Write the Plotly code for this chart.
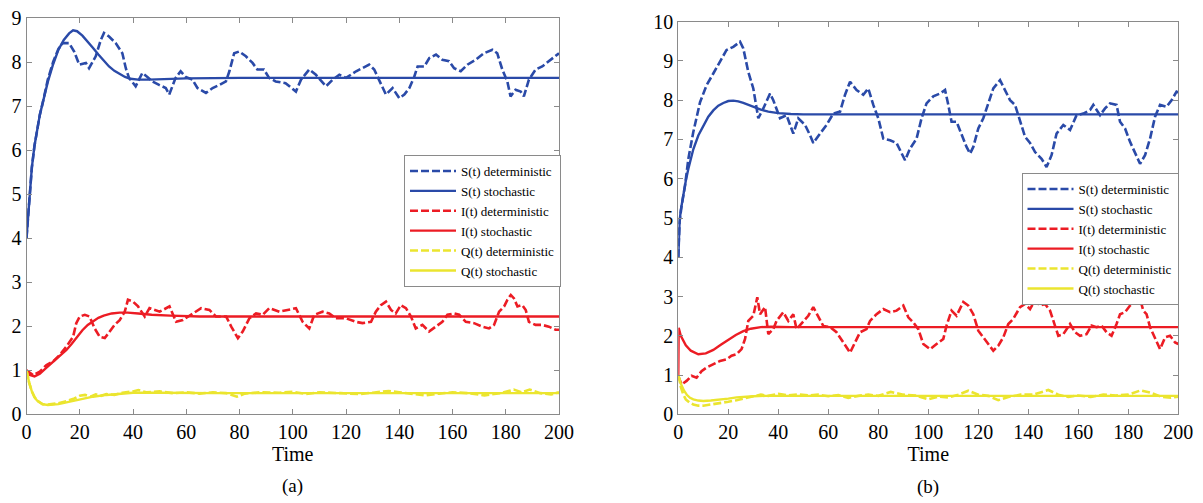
import plotly.graph_objects as go

# ---------------- data: panel (a) ----------------
a_S_det = [(0,4.0),(1,4.9),(2,5.6),(3,6.1),(4,6.5),(5,6.8),(6,7.05),(8,7.6),(10,8.0),(12,8.3),(13.6,8.43),(16,8.43),(17.9,8.24),(19.8,7.94),(22.3,7.98),(23.5,7.86),(26,8.13),(27.9,8.5),(29.1,8.66),(31,8.58),(33.5,8.43),(36,8.2),(37.3,7.86),(38.5,7.64),(41,7.45),(43.5,7.75),(45.4,7.66),(47.3,7.56),(49.8,7.48),(52.3,7.41),(53.6,7.26),(54.8,7.45),(56,7.64),(57.9,7.79),(59.8,7.66),(62.3,7.6),(64.2,7.41),(67.4,7.3),(69.9,7.41),(72.4,7.48),(74.9,7.56),(76.2,7.79),(78,8.2),(79.9,8.24),(82.4,8.13),(84.9,7.98),(86.7,7.83),(89.2,7.83),(91.1,7.64),(93.6,7.56),(97.3,7.52),(101.2,7.33),(103.1,7.6),(106.2,7.83),(108.7,7.71),(112.5,7.45),(115,7.6),(117.5,7.71),(120,7.64),(123.8,7.79),(128.7,7.94),(130.6,7.83),(132.5,7.6),(133.8,7.41),(135,7.26),(137.5,7.41),(140,7.18),(141.9,7.26),(143.8,7.41),(145.6,7.66),(146.9,7.9),(149.4,7.9),(151.3,8.09),(153.8,8.17),(156.2,8.05),(158.7,8.02),(160.6,7.86),(163.1,7.79),(165.6,7.94),(168.7,8.05),(171.8,8.2),(175,8.28),(176.8,8.2),(178.7,7.83),(180.6,7.56),(181.8,7.22),(183.7,7.37),(185.6,7.33),(186.8,7.22),(188.7,7.6),(191.2,7.83),(193.7,7.9),(196.2,8.02),(198.1,8.09),(200,8.2)]
a_S_sto = [(0,4.0),(1,4.9),(2,5.6),(3,6.1),(4,6.5),(5,6.8),(6,7.05),(8,7.55),(10,7.95),(12,8.28),(14,8.5),(16,8.65),(17.5,8.72),(19,8.7),(21,8.6),(23,8.47),(25,8.32),(27,8.17),(29,8.03),(31,7.9),(33,7.8),(35,7.72),(37,7.66),(39,7.62),(42,7.6),(46,7.6),(52,7.62),(60,7.63),(80,7.64),(200,7.64)]
a_I_det = [(0,1.0),(2.5,0.89),(5,0.97),(7.5,1.12),(10,1.2),(12.5,1.35),(15,1.54),(17.5,1.76),(18.7,2.07),(20,2.22),(21.9,2.26),(23.7,2.22),(25.6,1.95),(27.5,1.76),(29.4,1.73),(31.2,1.88),(33.1,2.03),(35,2.14),(36.9,2.33),(38.1,2.6),(40,2.56),(41.9,2.45),(44.4,2.22),(46.2,2.41),(50,2.33),(53.7,2.45),(56.2,2.1),(58.7,2.14),(62.5,2.29),(65.6,2.41),(68.7,2.37),(71.2,2.22),(75,2.22),(76.9,1.99),(79.4,1.73),(81.2,1.88),(83.7,2.18),(86.2,2.29),(88.7,2.26),(91.2,2.41),(95,2.33),(98.7,2.37),(101.2,2.41),(103.7,2.1),(106.2,1.95),(108.1,2.26),(111.2,2.33),(113.7,2.29),(116.2,2.18),(120,2.18),(123.7,2.1),(126.2,2.07),(129.4,2.1),(131.2,2.33),(133.1,2.48),(135,2.56),(136.9,2.37),(138.7,2.29),(140.6,2.48),(142.5,2.41),(144.4,2.22),(146.2,1.95),(148.7,2.03),(151.2,1.88),(153.7,1.99),(156.2,2.1),(158.1,2.26),(160.6,2.29),(162.5,2.26),(165,2.1),(168.1,2.07),(171.2,1.99),(173.7,1.95),(175.6,2.03),(177.5,2.33),(179.4,2.45),(180.6,2.6),(181.9,2.71),(183.1,2.63),(184.4,2.45),(186.2,2.48),(187.5,2.37),(188.7,2.1),(191.2,2.03),(193.7,2.03),(196.2,1.99),(198.7,1.92),(200,1.92)]
a_I_sto = [(0,1.0),(1,0.9),(3,0.86),(5,0.92),(7,1.03),(9,1.14),(11,1.25),(13,1.35),(15,1.46),(17,1.6),(19,1.76),(21,1.91),(23,2.03),(25,2.12),(27,2.19),(29,2.24),(32,2.29),(35,2.31),(38,2.31),(42,2.29),(47,2.26),(54,2.24),(65,2.22),(80,2.22),(200,2.22)]
a_Q_det = [(0,1.0),(1,0.72),(2,0.52),(3,0.39),(4,0.31),(5,0.26),(6,0.23),(8,0.22),(10,0.23),(12,0.25),(15,0.3),(18,0.36),(20,0.42),(22,0.44),(24,0.4),(26,0.45),(28,0.42),(30,0.46),(33,0.44),(36,0.49),(40,0.52),(42,0.55),(45,0.5),(50,0.52),(55,0.48),(60,0.5),(65,0.47),(70,0.5),(75,0.48),(79,0.4),(82,0.47),(88,0.5),(95,0.49),(100,0.51),(105,0.46),(110,0.5),(118,0.48),(125,0.46),(130,0.49),(136,0.53),(140,0.5),(145,0.47),(150,0.43),(155,0.47),(160,0.5),(166,0.48),(172,0.43),(178,0.48),(183,0.56),(186,0.5),(189,0.56),(193,0.48),(197,0.45),(200,0.5)]
a_Q_sto = [(0,1.0),(1,0.72),(2,0.52),(3,0.39),(4,0.31),(5,0.26),(6,0.23),(8,0.21),(10,0.215),(12,0.23),(15,0.27),(20,0.34),(25,0.4),(30,0.44),(35,0.47),(40,0.49),(50,0.49),(70,0.48),(200,0.48)]

# ---------------- data: panel (b) ----------------
b_S_det = [(0,4.0),(0.5,4.9),(1.3,5.3),(2.7,5.83),(4,6.5),(6,7.19),(8.7,7.95),(11.3,8.38),(14,8.68),(16.7,8.98),(19.3,9.28),(22,9.36),(24.7,9.49),(26,9.32),(28,8.72),(30,8.3),(31.3,7.87),(32,7.54),(34,7.79),(36.7,8.17),(38,8.0),(40.7,7.54),(43.3,7.62),(46,7.15),(48,7.54),(50.7,7.37),(52.7,7.11),(54,6.91),(56.7,7.15),(59.3,7.37),(62,7.66),(64.7,7.71),(66.7,8.14),(68.7,8.47),(71.3,8.26),(74,8.14),(76,8.3),(78,7.88),(80,7.54),(82,7.02),(84.7,6.98),(87.3,6.91),(90.7,6.47),(92.7,6.77),(95.3,7.02),(97.3,7.54),(99.3,7.92),(102,8.1),(104.7,8.17),(106.7,8.26),(108,7.88),(109.3,7.45),(111.3,7.45),(113.3,7.11),(115.3,6.81),(116.7,6.64),(118,6.81),(120,7.28),(122,7.54),(124,7.92),(126,8.3),(128.7,8.51),(130.7,8.26),(132.7,8.0),(134.7,7.88),(136.7,7.45),(138.7,7.07),(140.7,6.91),(142.7,6.68),(145.3,6.51),(147.3,6.3),(149.3,6.6),(151.3,7.15),(154,7.37),(156.7,7.24),(159.3,7.62),(162,7.66),(164.7,7.75),(166,7.88),(168.7,7.62),(170.7,7.79),(172.7,7.92),(175.3,7.88),(176.7,7.45),(178.7,7.28),(180.7,6.94),(182.7,6.68),(184.7,6.38),(186.7,6.6),(188.7,7.02),(190.7,7.58),(192.7,7.88),(195.3,7.83),(197.3,8.0),(199.3,8.22),(200,8.2)]
b_S_sto = [(0,4.0),(0.5,4.9),(1,5.2),(2,5.6),(3,5.95),(4,6.25),(6,6.75),(8,7.1),(10,7.35),(12,7.58),(14,7.74),(16,7.86),(18,7.93),(20,7.98),(22,7.99),(24,7.97),(26,7.93),(28,7.88),(30,7.83),(33,7.76),(36,7.71),(40,7.67),(45,7.65),(50,7.64),(200,7.64)]
b_I_det = [(0,0.97),(1.3,0.76),(3.3,0.85),(5.3,0.98),(7.3,0.93),(9.3,1.1),(11.3,1.19),(14,1.27),(16.7,1.36),(19.3,1.4),(21.3,1.49),(23.3,1.53),(25.3,1.66),(26.7,1.92),(28,2.38),(30,2.51),(31.6,2.98),(32.7,2.55),(34.7,2.73),(36,2.04),(38,2.17),(39.3,2.38),(42,2.6),(44,2.38),(46,2.55),(47.3,2.17),(50,2.38),(52,2.51),(54,2.73),(56,2.47),(58,2.25),(60.7,2.22),(63.3,2.09),(66,1.83),(68.7,1.57),(70.7,1.83),(72.7,2.09),(75.3,2.17),(76.7,2.38),(79.3,2.55),(82,2.68),(84.7,2.6),(87.3,2.64),(90,2.77),(92,2.47),(94,2.34),(96,2.17),(98,1.79),(100.7,1.66),(103.3,1.79),(106,1.92),(107.3,2.26),(109.3,2.64),(111.3,2.51),(114,2.86),(116,2.77),(118,2.55),(120,2.13),(122,1.96),(124,1.79),(126,1.62),(128,1.75),(130,1.96),(132,2.3),(134,2.43),(136.7,2.73),(138.7,2.81),(140.7,2.68),(142.7,2.9),(144.7,2.77),(146.7,2.81),(148.7,2.64),(150.7,2.26),(152,2.0),(154,2.04),(156.7,2.3),(158.7,2.09),(160.7,2.0),(163.3,2.04),(165.3,2.26),(167.3,2.22),(169.3,2.26),(171.3,2.09),(173.3,2.0),(175.3,2.3),(176.7,2.55),(178.7,2.6),(180.7,2.77),(182.7,2.9),(184.7,2.94),(186,2.64),(187.3,2.55),(188.7,2.22),(190.7,1.92),(192.7,1.66),(194.7,1.96),(196.7,2.0),(198.7,1.83),(200,1.79)]
b_I_sto = [(0,1.0),(0.15,2.2),(1,2.0),(2,1.86),(3,1.76),(5,1.62),(8,1.53),(11,1.55),(14,1.64),(17,1.77),(20,1.9),(23,2.02),(26,2.12),(29,2.18),(33,2.22),(37,2.23),(45,2.22),(200,2.22)]
b_Q_det = [(0,1.0),(1,0.7),(2,0.5),(3,0.38),(4.5,0.3),(6,0.25),(8,0.22),(10,0.22),(13,0.25),(16.7,0.28),(20,0.32),(23.3,0.36),(26,0.4),(30,0.45),(33,0.5),(36,0.47),(40,0.52),(44,0.48),(48,0.51),(52,0.48),(56,0.5),(60,0.46),(64,0.49),(68,0.42),(72,0.47),(76,0.5),(80,0.47),(85,0.57),(90,0.5),(95,0.48),(100,0.38),(104,0.45),(108,0.43),(112,0.5),(116,0.6),(120,0.5),(124,0.47),(128,0.36),(132,0.44),(137,0.5),(142,0.5),(148,0.62),(152,0.5),(156,0.44),(160,0.48),(165,0.44),(170,0.5),(175,0.48),(180,0.5),(185,0.61),(189,0.55),(193,0.45),(197,0.42),(200,0.45)]
b_Q_sto = [(0,1.0),(1,0.78),(2.3,0.6),(3.5,0.49),(4.7,0.42),(6,0.38),(8,0.35),(10,0.34),(13,0.35),(16.7,0.37),(20,0.4),(23.3,0.43),(27,0.45),(30,0.46),(35,0.47),(45,0.47),(200,0.47)]

series_names = ["S(t) deterministic", "S(t) stochastic", "I(t) deterministic",
                "I(t) stochastic", "Q(t) deterministic", "Q(t) stochastic"]
x_ticks = [0, 20, 40, 60, 80, 100, 120, 140, 160, 180, 200]
ya_ticks = [0, 1, 2, 3, 4, 5, 6, 7, 8, 9]
yb_ticks = [0, 1, 2, 3, 4, 5, 6, 7, 8, 9, 10]
panel_labels = ["(a)", "(b)"]

BLUE = "#2a4aa8"
RED = "#ec1c24"
YEL = "#ebe52f"
colors = [BLUE, BLUE, RED, RED, YEL, YEL]
DASH = "8px,3px"

fig = go.Figure()

def add_panel(series, xa, ya, legend):
    for i, (data, name) in enumerate(zip(series, series_names)):
        xs = [p[0] for p in data]
        ys = [p[1] for p in data]
        det = (i % 2 == 0)
        fig.add_trace(go.Scatter(
            x=xs, y=ys, mode="lines", name=name,
            line=dict(color=colors[i], width=2.6 if det else 2.4,
                      dash=DASH if det else "solid"),
            xaxis=xa, yaxis=ya, legend=legend, showlegend=True))

add_panel([a_S_det, a_S_sto, a_I_det, a_I_sto, a_Q_det, a_Q_sto], "x", "y", "legend")
add_panel([b_S_det, b_S_sto, b_I_det, b_I_sto, b_Q_det, b_Q_sto], "x2", "y2", "legend2")

# the page body has an 8px default margin, so the figure is placed at (8, 8)
OFF = 8
W, H = 1203 - OFF, 503 - OFF
def fx(px): return (px - OFF) / W
def fy(py): return 1 - (py - OFF) / H

FONT = "Liberation Serif"
axis_common = dict(showline=True, linecolor="#8a8a8a", linewidth=1, mirror="allticks",
                   ticks="inside", ticklen=5, tickcolor="#8a8a8a", showgrid=False,
                   zeroline=False, tickfont=dict(family=FONT, size=20, color="black"),
                   ticklabeloverflow="allow", automargin=False)
title_font = dict(family=FONT, size=20, color="black")
legend_common = dict(xanchor="right", yanchor="top", bgcolor="white",
                     bordercolor="#8a8a8a", borderwidth=1,
                     font=dict(family=FONT, size=13, color="black"), itemwidth=46,
                     tracegroupgap=0, traceorder="normal")

fig.update_layout(
    width=W, height=H, margin=dict(l=0, r=0, t=0, b=0),
    paper_bgcolor="white", plot_bgcolor="white",
    font=dict(family=FONT, color="black", size=20),
    xaxis=dict(domain=[fx(26.5), fx(559)], range=[0, 200], tickvals=x_ticks,
               anchor="y", title=dict(text="Time", font=title_font, standoff=0),
               **axis_common),
    yaxis=dict(domain=[fy(414.3), fy(18)], range=[0, 9], tickvals=ya_ticks, anchor="x",
               **axis_common),
    xaxis2=dict(domain=[fx(678.3), fx(1178.3)], range=[0, 200], tickvals=x_ticks,
                anchor="y2", title=dict(text="Time", font=title_font, standoff=0),
                **axis_common),
    yaxis2=dict(domain=[fy(414.3), fy(21.7)], range=[0, 10], tickvals=yb_ticks, anchor="x2",
                **axis_common),
    legend=dict(x=fx(561), y=fy(155), **legend_common),
    legend2=dict(x=fx(1178.5), y=fy(173), **legend_common),
    annotations=[
        dict(text=panel_labels[0], x=fx(292), y=fy(486), xref="paper", yref="paper",
             xanchor="center", yanchor="middle",
             showarrow=False, font=dict(family=FONT, size=19)),
        dict(text=panel_labels[1], x=fx(928), y=fy(487), xref="paper", yref="paper",
             xanchor="center", yanchor="middle",
             showarrow=False, font=dict(family=FONT, size=19)),
    ],
)

fig.write_html("out.html")
